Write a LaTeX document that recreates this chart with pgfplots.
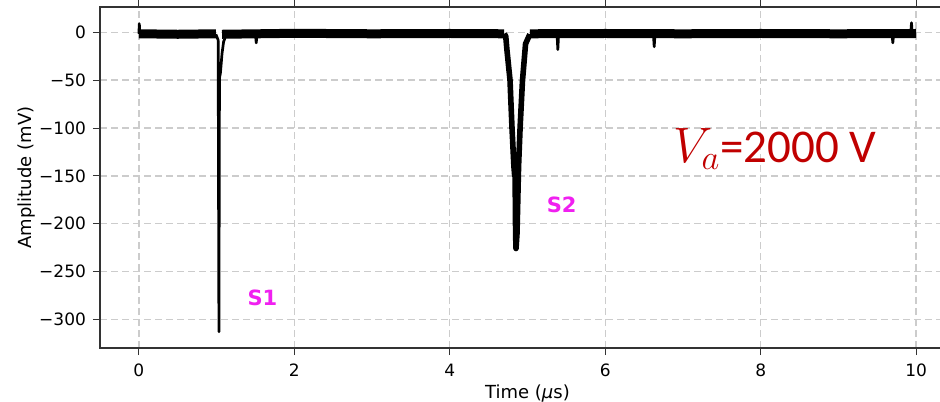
\documentclass[border=0pt]{standalone}
\usepackage{pgfplots}
\pgfplotsset{compat=1.18}
\usepackage{fontspec}
\setmainfont{DejaVu Sans}
\newfontfamily\carlito{Carlito}
\definecolor{vred}{HTML}{C00000}
\definecolor{smag}{HTML}{F020F0}
\definecolor{gridgray}{HTML}{CCCCCC}
\definecolor{spine}{HTML}{333333}

\begin{document}
\begin{tikzpicture}
\begin{axis}[
  scale only axis,
  width=427.5pt, height=170.5pt,
  xmin=-0.5, xmax=10.5,
  ymin=-330, ymax=26.5,
  xtick={0,2,...,10},
  ytick={-300,-250,...,0},
  yticklabels={−300,−250,−200,−150,−100,−50,0},
  /pgf/number format/assume math mode=true,
  tick label style={font=\fontsize{8.5}{10}\selectfont},
  label style={font=\fontsize{9}{10}\selectfont},
  xlabel={Time (\textit{μ}s)},
  ylabel={Amplitude (mV)},
  xlabel style={yshift=3pt},
  ylabel style={yshift=-5pt},
  tick align=outside,
  major tick length=3.5pt,
  tick style={spine, line width=0.5pt},
  axis line style={spine, line width=0.8pt},
  grid=major,
  major grid style={gridgray, dash pattern=on 3.5pt off 2pt, line width=0.7pt},
  xticklabel style={yshift=-1pt},
  unbounded coords=jump,
  clip=true,
]
% noisy baseline band
\addplot[black, line width=4.5pt, line cap=butt] coordinates {
  (0,-1.5) (0.5,-2) (0.99,-1.5)
  (nan,nan)
  (1.07,-2) (2.0,-1) (3.0,-1.5) (4.0,-1.2) (4.70,-1.5)
  (nan,nan)
  (5.03,-1.5) (6.0,-1.2) (7.0,-1.5) (8.0,-1.2) (9.0,-1.5) (10.0,-1.2)
};
% S1 pulse and isolated noise spikes
\addplot[black, line width=1.35pt, line join=round] coordinates {
  (0.0,-1.5) (0.006,9) (0.012,-1.5)
  (nan,nan)
  (0.99,-2) (1.02,-8) (1.03,-313) (1.037,-48) (1.05,-42) (1.07,-22) (1.09,-10) (1.12,-3)
  (nan,nan)
  (1.50,-2) (1.51,-11) (1.52,-2)
  (nan,nan)
  (5.38,-2) (5.39,-18) (5.40,-2)
  (nan,nan)
  (6.62,-2) (6.63,-15) (6.64,-2)
  (nan,nan)
  (9.69,-2) (9.70,-11) (9.71,-2)
  (nan,nan)
  (9.93,-2) (9.94,10) (9.95,-2)
};
% S2 pulse
\addplot[black, line width=2.8pt, line join=round] coordinates {
  (4.70,-1.5) (4.72,-4) (4.735,-18) (4.775,-50) (4.80,-99) (4.825,-140)
  (4.835,-150) (4.84,-145) (4.847,-210) (4.852,-226)
  (4.865,-210) (4.885,-140) (4.905,-99) (4.935,-51) (4.975,-12) (5.03,-2)
};
\node[text=smag, font=\fontsize{10.5}{12}\selectfont\bfseries] at (axis cs:1.59,-278) {S1};
\node[text=smag, font=\fontsize{10.5}{12}\selectfont\bfseries] at (axis cs:5.44,-180) {S2};
\node[text=vred, anchor=base west, inner sep=0pt, font=\fontsize{23.5}{26}\selectfont]
  at (axis cs:6.87,-135.7) {$V_a$\carlito=2000 V};
\end{axis}
\pgfresetboundingbox
\path[use as bounding box]
  ([xshift=-50pt,yshift=-26.5pt]current axis.south west)
  rectangle ([xshift=420pt,yshift=3.5pt]current axis.north west);
\end{tikzpicture}
\end{document}
